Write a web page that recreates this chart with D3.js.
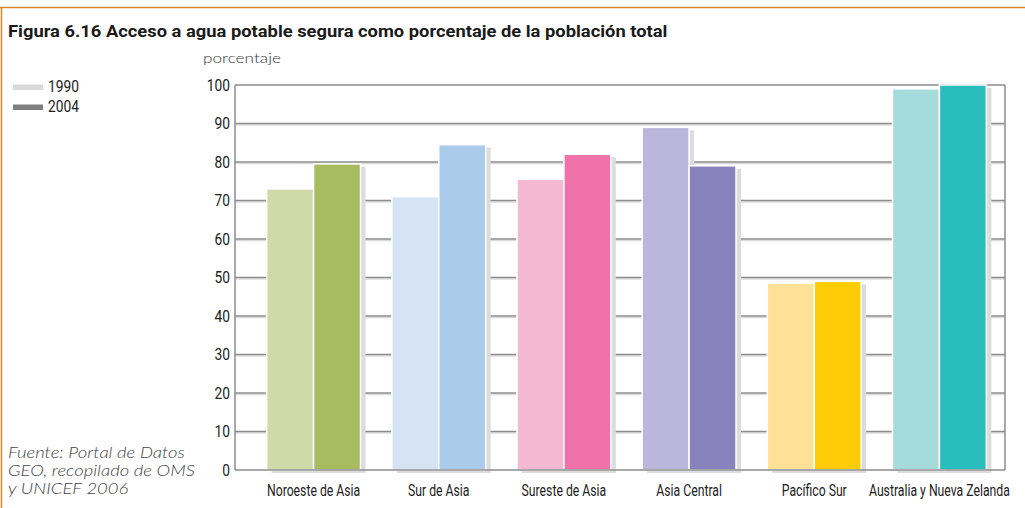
<!DOCTYPE html>
<html><head><meta charset="utf-8">
<script src="https://cdn.jsdelivr.net/npm/d3@7"></script>
<style>
html,body{margin:0;padding:0;background:#fff;}
svg{display:block;}
</style></head>
<body>
<svg id="chart" width="1025" height="508"></svg>
<script>
const categories = ["Noroeste de Asia","Sur de Asia","Sureste de Asia","Asia Central","Pacífico Sur","Australia y Nueva Zelanda"];
const years = ["1990","2004"];
const values1990 = [73, 71, 75.5, 89, 48.5, 99];
const values2004 = [79.5, 84.5, 82, 79, 49, 100];
const colors1990 = ["#cfdaa8","#d5e3f5","#f5b8d3","#bab6dc","#fee196","#a6dbdc"];
const colors2004 = ["#a7bc5f","#abcbeb","#f072aa","#8882bd","#ffcc05","#29bdbd"];
const yTicks = [0,10,20,30,40,50,60,70,80,90,100];
const legendColors = ["#d9d9d9","#808080"];
const titleText = "Figura 6.16 Acceso a agua potable segura como porcentaje de la población total";
const yLabel = "porcentaje";
const sourceLines = ["Fuente: Portal de Datos","GEO, recopilado de OMS","y UNICEF 2006"];

const svg = d3.select("#chart");

const COND = "Roboto, 'Liberation Sans', sans-serif";
const LIGHT = "Lato, 'Open Sans', sans-serif";

function measure(str, family, size, weight, style) {
  const t = svg.append("text").attr("font-family",family).attr("font-size",size)
    .attr("font-weight",weight||"normal").attr("font-style",style||"normal").text(str);
  const w = t.node().getComputedTextLength();
  t.remove();
  return w;
}
// horizontal compression factors for the condensed look
const sxCond = 141 / measure("Australia y Nueva Zelanda", COND, 17);
const sxNum = 31 / measure("1990", COND, 16);
const sxTitle = 660 / measure(titleText, COND, 16.5, "bold");
const sxSrc = 187 / measure("GEO, recopilado de OMS", LIGHT, 16, 300, "italic");
const sxLab = 78 / measure(yLabel, LIGHT, 13.5, 300);

function label(parent, x, y, str, opts) {
  return parent.append("text")
    .attr("transform", `translate(${x},${y}) scale(${opts.sx},1)`)
    .attr("font-family", opts.family).attr("font-size", opts.size)
    .attr("font-weight", opts.weight || "normal").attr("font-style", opts.style || "normal")
    .attr("text-anchor", opts.anchor || "start").attr("fill", opts.fill || "#222")
    .text(str);
}

// frame
svg.append("line").attr("x1",0).attr("x2",1025).attr("y1",7.5).attr("y2",7.5).attr("stroke","#d9862a").attr("stroke-width",1.5);
svg.append("line").attr("x1",1.5).attr("x2",1.5).attr("y1",7).attr("y2",508).attr("stroke","#d9862a").attr("stroke-width",1.5);

// title
label(svg, 8, 37, titleText, {sx:sxTitle, family:COND, size:16.5, weight:"bold", fill:"#1a1a1a"});

const plotL = 235, plotR = 1005, plotT = 85, plotB = 470;
const y = d3.scaleLinear().domain([0,100]).range([plotB, plotT]);
const x0 = d3.scaleBand().domain(categories).range([251, 1002]).paddingInner(0.25).paddingOuter(0.125);
const x1 = d3.scaleBand().domain(years).range([0, x0.bandwidth()]).paddingInner(0);

// grid lines
const grid = svg.append("g");
yTicks.filter(t => t > 0 && t < 100).forEach(t => {
  grid.append("line").attr("x1",plotL).attr("x2",plotR).attr("y1",y(t)+1.5).attr("y2",y(t)+1.5)
    .attr("stroke","#dcdcdc").attr("stroke-width",1.5);
  grid.append("line").attr("x1",plotL).attr("x2",plotR).attr("y1",y(t)).attr("y2",y(t))
    .attr("stroke","#8c8c8c").attr("stroke-width",1.5);
});

// y tick labels
const gy = svg.append("g");
yTicks.forEach(t => {
  label(gy, 230, y(t) + 5.5, d3.format("d")(t), {sx:sxNum, family:COND, size:16, anchor:"end"});
});

// frame of plot
svg.append("line").attr("x1",plotL).attr("x2",plotL).attr("y1",plotT).attr("y2",plotB).attr("stroke","#8c8c8c").attr("stroke-width",1.5);
svg.append("line").attr("x1",plotL).attr("x2",plotR).attr("y1",plotT).attr("y2",plotT).attr("stroke","#8c8c8c").attr("stroke-width",1.5);
svg.append("line").attr("x1",plotR).attr("x2",plotR).attr("y1",plotT).attr("y2",plotB).attr("stroke","#8c8c8c").attr("stroke-width",1.5);

// bars
const data = [];
categories.forEach((c,i) => {
  data.push({cat:c, year:"1990", v:values1990[i], color:colors1990[i]});
  data.push({cat:c, year:"2004", v:values2004[i], color:colors2004[i]});
});
const bars = svg.append("g");
data.forEach(d => {
  const bx = x0(d.cat) + x1(d.year);
  const bw = x1.bandwidth();
  bars.append("rect").attr("x",bx+5).attr("y",y(d.v)+3).attr("width",bw).attr("height",plotB - y(d.v))
    .attr("fill","#dcdcdc");
});
data.forEach(d => {
  const bx = x0(d.cat) + x1(d.year);
  const bw = x1.bandwidth();
  bars.append("rect").attr("x",bx).attr("y",y(d.v)).attr("width",bw).attr("height",plotB - y(d.v))
    .attr("fill",d.color).attr("stroke","#fff").attr("stroke-width",1.5);
});

// bottom axis line
svg.append("line").attr("x1",plotL).attr("x2",plotR).attr("y1",plotB).attr("y2",plotB).attr("stroke","#8c8c8c").attr("stroke-width",1.5);

// category labels
const gx = svg.append("g");
categories.forEach(c => {
  label(gx, x0(c) + x0.bandwidth()/2, 496, c, {sx:sxCond, family:COND, size:17, anchor:"middle"});
});

// y label
label(svg, 203, 63, yLabel, {sx:sxLab, family:LIGHT, size:13.5, weight:300, fill:"#333"});

// legend
years.forEach((yr,i) => {
  svg.append("rect").attr("x",13).attr("y",84.5 + i*20).attr("width",30).attr("height",5.5).attr("fill",legendColors[i]);
  label(svg, 48, 92 + i*20, yr, {sx:sxNum, family:COND, size:16});
});

// source
sourceLines.forEach((s,i) => {
  label(svg, 8, 458 + i*18, s, {sx:sxSrc, family:LIGHT, size:16, weight:300, style:"italic", fill:"#444"});
});
</script>
</body></html>
